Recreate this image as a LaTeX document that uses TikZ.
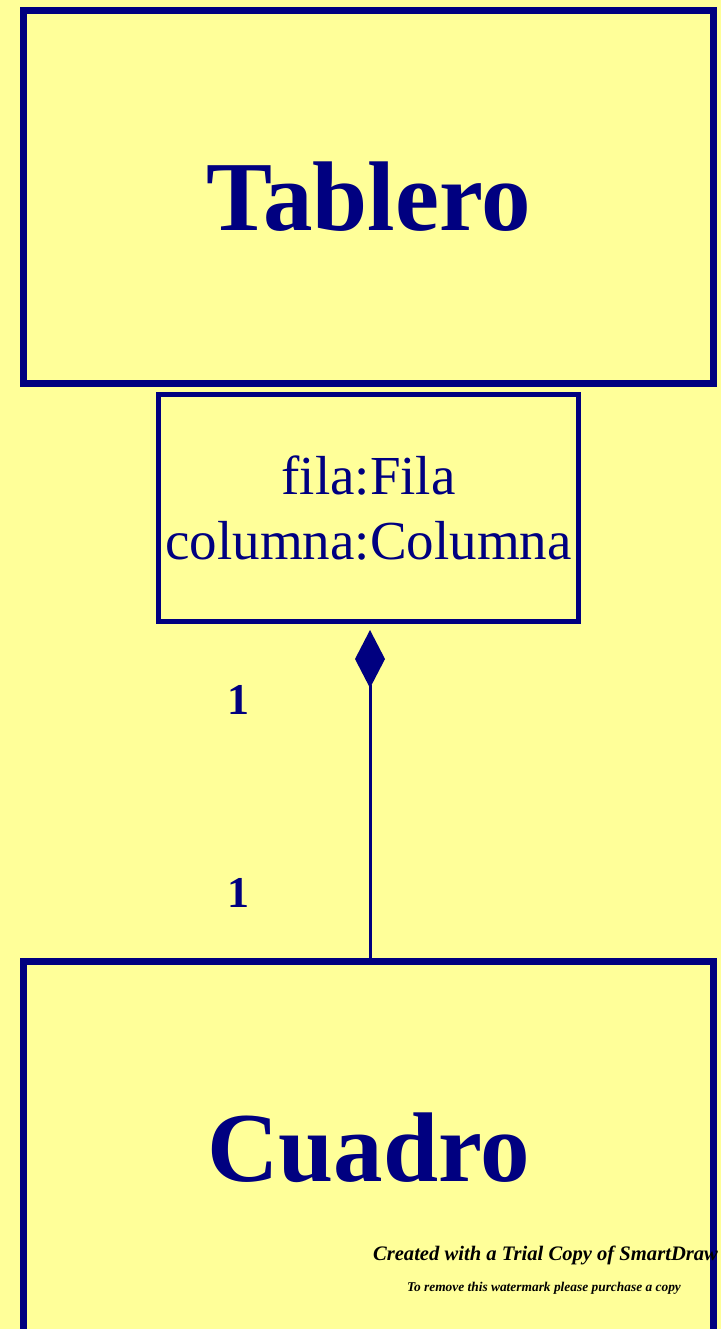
\documentclass[tikz,border=0pt]{standalone}
\usepackage{fontspec}
\setmainfont{Liberation Serif}
\usetikzlibrary{arrows.meta, positioning}
\definecolor{umlnavy}{RGB}{0,0,128}
\definecolor{umlyellow}{RGB}{255,255,153}
\tikzset{
	classbox/.style={rectangle, draw=umlnavy, line width=3.5pt, minimum width=345pt, minimum height=186.5pt, text=umlnavy, font=\fontsize{49.5}{56}\selectfont\bfseries},
	attrbox/.style={rectangle, draw=umlnavy, line width=2.5pt, minimum width=210pt, minimum height=113.5pt, text=umlnavy, align=center, font=\fontsize{27.5}{32.5}\selectfont},
	comp_conn/.style={draw=umlnavy, line width=1.5pt, -{Diamond[length=29pt, width=15pt]}, shorten >=3pt},
	mult/.style={text=umlnavy, font=\fontsize{22}{26}\selectfont\bfseries},
	watermark/.style={text=black, font=\bfseries\itshape, inner sep=0pt}
}

\begin{document}
\begin{tikzpicture}[x=0.5pt, y=-0.5pt]
	\useasboundingbox (0,0) rectangle (721,1329);
	\clip (0,0) rectangle (721,1329);
	\fill[umlyellow] (0,0) rectangle (721,1329);
	% classes
	\node[classbox] (tablero) at (368.5,197) {Tablero};
	\node[attrbox, below=2.5pt of tablero] (attrs) {fila:Fila\\columna:Columna};
	\node[classbox] (cuadro) at (368.5,1148) {Cuadro};
	% composition
	\draw[comp_conn] (cuadro.north -| 370,0) -- (attrs.south -| 370,0);
	\node[mult] (m_top) at (238,700) {1};
	\node[mult] (m_bot) at (238,893) {1};
	% trial stamp
	\node[watermark, font=\fontsize{10.3}{11}\selectfont\bfseries\itshape] (wm1) at (545.5,1255) {Created with a Trial Copy of SmartDraw};
	\node[watermark, font=\fontsize{6.7}{7}\selectfont\bfseries\itshape] (wm2) at (544,1288) {To remove this watermark please purchase a copy};
\end{tikzpicture}
\end{document}
